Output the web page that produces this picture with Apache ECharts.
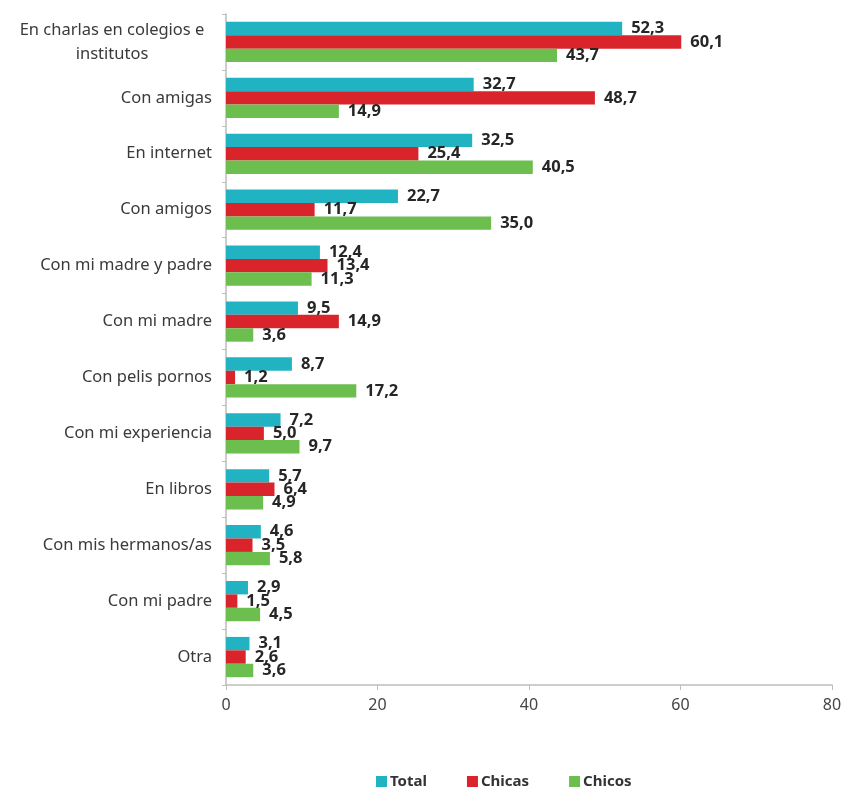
<!DOCTYPE html>
<html>
<head>
<meta charset="utf-8">
<script src="https://cdn.jsdelivr.net/npm/echarts@6/dist/echarts.min.js"></script>
<style>html,body{margin:0;padding:0;background:#fff}#c{width:845px;height:789px}</style>
</head>
<body>
<div id="c"></div>
<script>
const categories = [
  "En charlas en colegios e\ninstitutos",
  "Con amigas",
  "En internet",
  "Con amigos",
  "Con mi madre y padre",
  "Con mi madre",
  "Con pelis pornos",
  "Con mi experiencia",
  "En libros",
  "Con mis hermanos/as",
  "Con mi padre",
  "Otra"
];
const total  = [52.3, 32.7, 32.5, 22.7, 12.4, 9.5, 8.7, 7.2, 5.7, 4.6, 2.9, 3.1];
const chicas = [60.1, 48.7, 25.4, 11.7, 13.4, 14.9, 1.2, 5.0, 6.4, 3.5, 1.5, 2.6];
const chicos = [43.7, 14.9, 40.5, 35.0, 11.3, 3.6, 17.2, 9.7, 4.9, 5.8, 4.5, 3.6];
const seriesNames = ["Total", "Chicas", "Chicos"];
const xTicks = [0, 20, 40, 60, 80];

const colors = ["#22B3C2", "#D8242A", "#6CBE4F"];
const font = "Noto Sans";

function mk(name, data, color) {
  return {
    name: name,
    type: 'bar',
    data: data,
    itemStyle: { color: color },
    barGap: '0%',
    barCategoryGap: '28%',
    label: {
      show: true,
      position: 'right',
      distance: 9,
      fontFamily: font,
      fontWeight: 'bold',
      fontSize: 16.5,
      color: '#262626',
      formatter: p => p.value.toFixed(1).replace('.', ',')
    }
  };
}

const chart = echarts.init(document.getElementById('c'), null, { renderer: 'canvas' });
chart.setOption({
  animation: false,
  color: colors,
  grid: { left: 226, right: 13, top: 14, bottom: 104, containLabel: false },
  legend: {
    top: 769,
    left: 371,
    itemWidth: 11,
    itemHeight: 11,
    itemGap: 40,
    icon: 'rect',
    textStyle: { fontFamily: font, fontWeight: 'bold', fontSize: 15, color: '#333', padding: [0, 0, 0, -2] },
    data: seriesNames
  },
  xAxis: {
    type: 'value',
    min: xTicks[0],
    max: xTicks[xTicks.length - 1],
    interval: 20,
    axisLine: { show: true, lineStyle: { color: '#BDBDBD', width: 1.5 } },
    axisTick: { show: true, length: 5, lineStyle: { color: '#BDBDBD' } },
    splitLine: { show: false },
    axisLabel: { fontFamily: font, fontSize: 16, color: '#444', margin: 12 }
  },
  yAxis: {
    type: 'category',
    inverse: true,
    data: categories,
    axisLine: { show: true, lineStyle: { color: '#BDBDBD', width: 1.5 } },
    axisTick: { show: true, length: 4, lineStyle: { color: '#BDBDBD' } },
    axisLabel: {
      fontFamily: font,
      fontSize: 16.5,
      color: '#3a3a3a',
      margin: 14,
      formatter: function (v) {
        if (v.indexOf('\n') >= 0) {
          return v.split('\n').map(s => '{c|' + s + '}').join('\n');
        }
        return v;
      },
      rich: { c: { width: 200, align: 'center', fontFamily: font, fontSize: 16.5, color: '#3a3a3a', lineHeight: 24 } }
    }
  },
  series: [
    mk(seriesNames[0], total, colors[0]),
    mk(seriesNames[1], chicas, colors[1]),
    mk(seriesNames[2], chicos, colors[2])
  ]
});
</script>
</body>
</html>
